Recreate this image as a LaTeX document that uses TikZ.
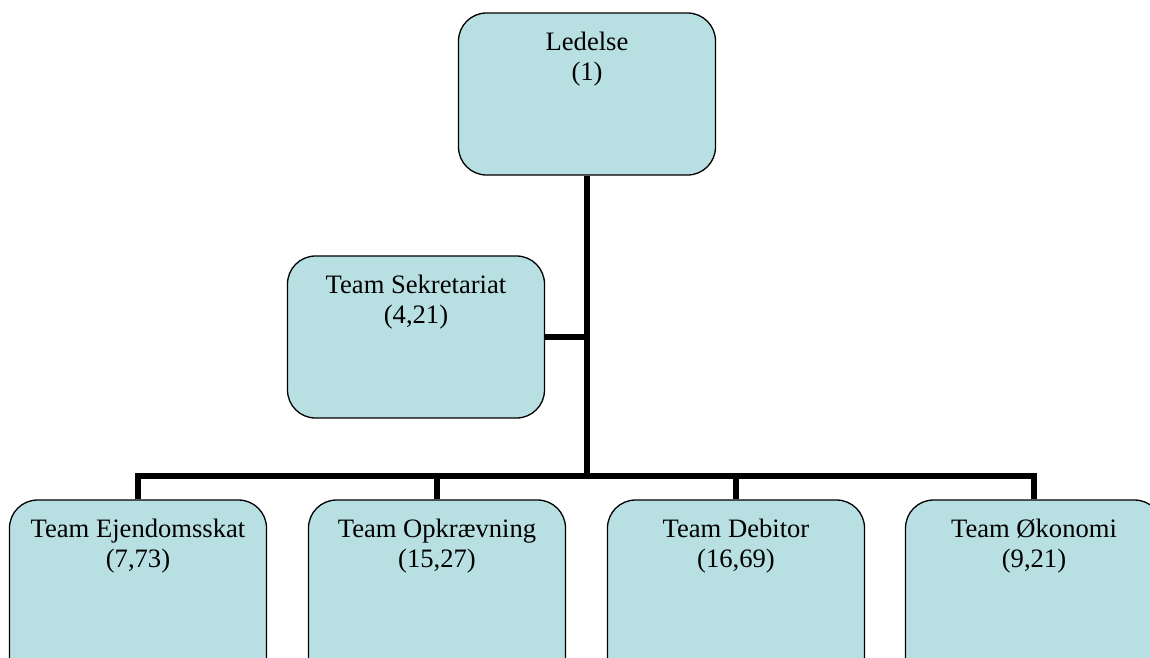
\documentclass[tikz,border=0pt]{standalone}
\usepackage{fontspec}
\setmainfont{Liberation Serif}
\usetikzlibrary{positioning}
\definecolor{UnitFill}{RGB}{184,223,225}
\tikzset{UnitStyle/.style={draw=black, line width=1.3pt, fill=UnitFill,
    rounded corners=28pt, minimum width=257pt, minimum height=162pt, inner sep=0pt,
    label={[anchor=north, yshift=-16pt, align=center, font=\fontsize{26.6}{30}\selectfont]north:#1}}}
\tikzset{LinkStyle/.style={line width=6pt}}

\begin{document}
\begin{tikzpicture}[x=1pt,y=-1pt]
        \useasboundingbox (0,0) rectangle (1150,657);
        \clip (0,0) rectangle (1150,657);
        \coordinate (bus) at (587,476);
        \node[UnitStyle={Ledelse\\(1)}] (lede) at (587,94) {};
        \node[UnitStyle={Team Sekretariat\\(4,21)}] (sekr) at (416,337) {};
        \tikzset{UnitStyle/.append style={minimum height=220pt}}
        \node[UnitStyle={Team Ejendomsskat\\(7,73)}] (ejd) at (138,610) {};
        \node[UnitStyle={Team Opkrævning\\(15,27)}] (opk) at (437,610) {};
        \node[UnitStyle={Team Debitor\\(16,69)}] (deb) at (736,610) {};
        \node[UnitStyle={Team Økonomi\\(9,21)}] (oko) at (1034,610) {};
        \draw[LinkStyle] (lede.south) -- (bus);
        \draw[LinkStyle] (sekr.east) -- (sekr.east -| bus);
        \draw[LinkStyle] (ejd.north) |- (bus);
        \draw[LinkStyle] (opk.north) -- (opk.north |- bus);
        \draw[LinkStyle] (deb.north) -- (deb.north |- bus);
        \draw[LinkStyle] (oko.north) |- (bus);
    \end{tikzpicture}
\end{document}
